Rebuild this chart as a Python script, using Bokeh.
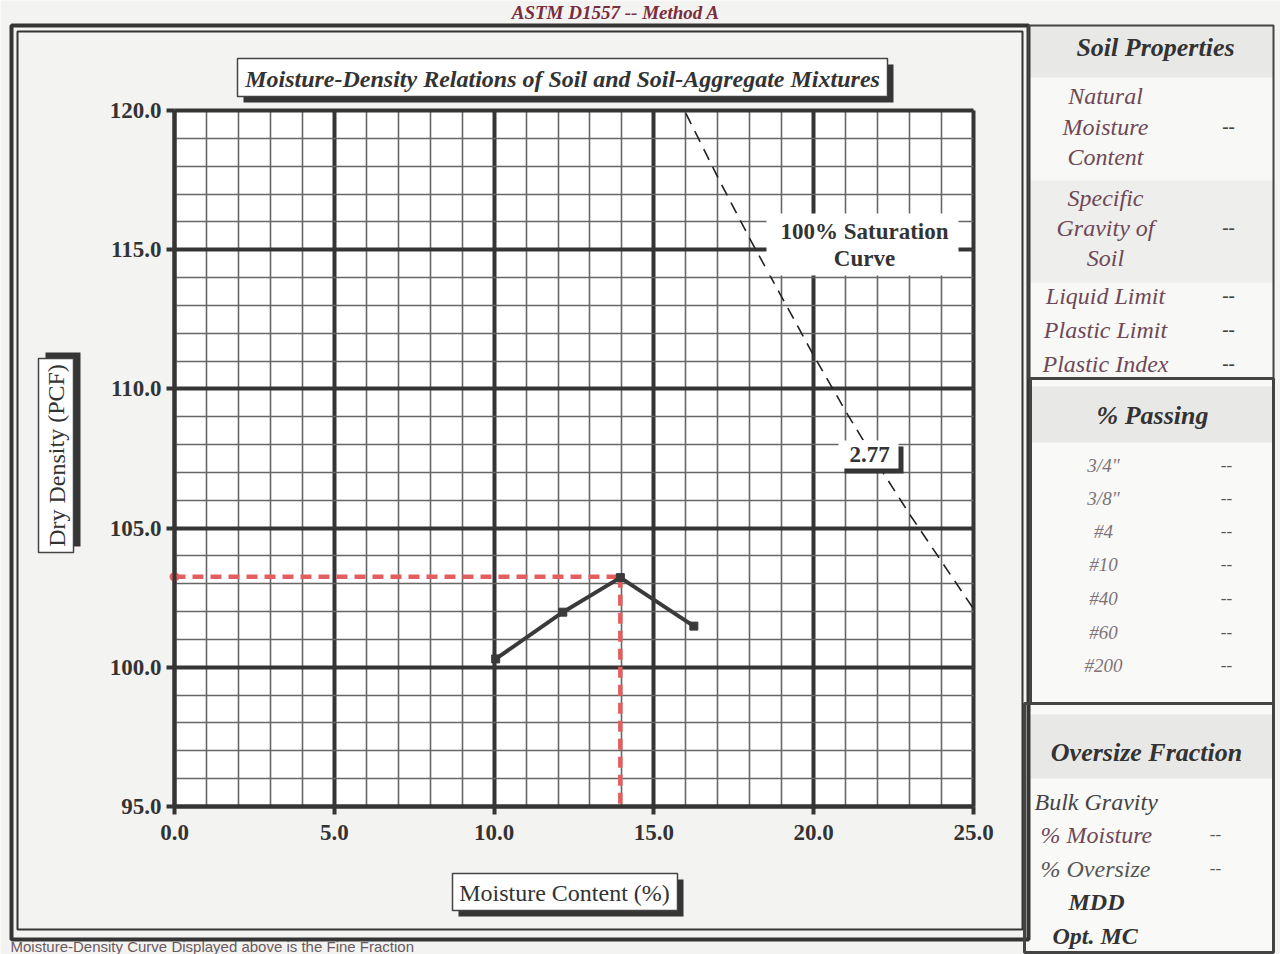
from bokeh.plotting import figure
from bokeh.models import Range1d, FixedTicker, Grid, LinearAxis, PrintfTickFormatter
from bokeh.core.properties import value
from bokeh.embed import file_html
from bokeh.resources import INLINE

# ---------------- data ----------------
moisture = [10.05, 12.15, 13.95, 16.25]
dry_density = [100.30, 101.98, 103.22, 101.48]
opt_moisture = [13.95]
max_density = [103.25]
zav_moisture = [16.0, 17.0, 18.0, 19.0, 20.0, 21.0, 22.0, 23.0, 24.0, 25.0]
zav_density = [119.9, 117.6, 115.4, 113.3, 111.2, 109.2, 107.3, 105.5, 103.8, 102.1]
x_major = [0, 5, 10, 15, 20, 25]
x_minor = list(range(0, 26))
y_major = [95, 100, 105, 110, 115, 120]
y_minor = list(range(95, 121))
specific_gravity = "2.77"

soil_prop_names = [["Natural", "Moisture", "Content"], ["Specific", "Gravity of", "Soil"],
                   ["Liquid Limit"], ["Plastic Limit"], ["Plastic Index"]]
soil_prop_values = ["--", "--", "--", "--", "--"]
sieves = ['3/4"', '3/8"', "#4", "#10", "#40", "#60", "#200"]
sieve_values = ["--", "--", "--", "--", "--", "--", "--"]
oversize_names = ["Bulk Gravity", "% Moisture", "% Oversize", "MDD", "Opt. MC"]
oversize_values = ["", "--", "--", "", ""]

# ---------------- page geometry ----------------
W, H = 1280, 954
FL, FR, FT, FB = 174, 973, 110, 806     # chart frame in page pixels
X0, X1, Y0, Y1 = 0.0, 25.0, 95.0, 120.0


def mc(X):
    return X0 + (X - FL) * (X1 - X0) / (FR - FL)


def dd(Y):
    return Y1 - (Y - FT) * (Y1 - Y0) / (FB - FT)


SERIF = "Liberation Serif"
DARK = "#353535"
PAPER = "#f3f3f1"

p = figure(width=W, height=H, x_range=Range1d(0, W), y_range=Range1d(H, 0),
           x_axis_location=None, y_axis_location=None, min_border=0,
           output_backend="svg", toolbar_location=None)
p.grid.visible = False
p.outline_line_color = None
p.background_fill_color = PAPER
p.border_fill_color = PAPER
p.extra_x_ranges = {"mc": Range1d(mc(0), mc(W))}
p.extra_y_ranges = {"dd": Range1d(dd(H), dd(0))}
CH = dict(x_range_name="mc", y_range_name="dd")

# chart background
p.quad(left=[X0], right=[X1], bottom=[Y0], top=[Y1], fill_color="white", line_color=None,
       level="image", **CH)

# grids limited to the chart box
grid_ok = True
try:
    for dim, major, minor, b, cb in ((0, x_major, x_minor, (X0, X1), (Y0, Y1)),
                                     (1, y_major, y_minor, (Y0, Y1), (X0, X1))):
        g = Grid(dimension=dim, ticker=FixedTicker(ticks=major, minor_ticks=minor),
                 bounds=b, cross_bounds=cb, grid_line_color=DARK, grid_line_width=4,
                 minor_grid_line_color="#666666", minor_grid_line_width=1.6, **CH)
        p.add_layout(g)
except Exception:
    grid_ok = False
if not grid_ok:
    p.segment(x0=x_minor, x1=x_minor, y0=[Y0] * len(x_minor), y1=[Y1] * len(x_minor),
              line_color="#666666", line_width=1.6, level="underlay", **CH)
    p.segment(x0=[X0] * len(y_minor), x1=[X1] * len(y_minor), y0=y_minor, y1=y_minor,
              line_color="#666666", line_width=1.6, level="underlay", **CH)
    p.segment(x0=x_major, x1=x_major, y0=[Y0] * len(x_major), y1=[Y1] * len(x_major),
              line_color=DARK, line_width=4, level="underlay", **CH)
    p.segment(x0=[X0] * len(y_major), x1=[X1] * len(y_major), y0=y_major, y1=y_major,
              line_color=DARK, line_width=4, level="underlay", **CH)

# axes drawn at the chart's edges
xax = LinearAxis(fixed_location=Y0, bounds=(X0, X1), ticker=FixedTicker(ticks=x_major), **CH)
yax = LinearAxis(fixed_location=X0, bounds=(Y0, Y1), ticker=FixedTicker(ticks=y_major), **CH)
for ax in (xax, yax):
    ax.formatter = PrintfTickFormatter(format="%.1f")
    ax.axis_line_color = DARK
    ax.axis_line_width = 4
    ax.major_tick_line_color = DARK
    ax.major_tick_line_width = 4
    ax.major_tick_out = 8
    ax.major_tick_in = 0
    ax.minor_tick_line_color = None
    ax.major_label_text_font = SERIF
    ax.major_label_text_font_style = "bold"
    ax.major_label_text_font_size = "23px"
    ax.major_label_text_color = "#333333"
xax.major_label_standoff = 10
yax.major_label_standoff = 5
p.add_layout(xax, "below")
p.add_layout(yax, "left")

# ---------------- chart marks ----------------
p.line(zav_moisture, zav_density, line_color="#222222", line_width=1.6, line_dash="12 8", **CH)

red = "#e35f5f"
p.line([X0, opt_moisture[0]], [max_density[0], max_density[0]], line_color=red, line_width=4.5,
       line_dash="11 7", **CH)
p.line([opt_moisture[0], opt_moisture[0]], [max_density[0], Y0], line_color=red, line_width=4.5,
       line_dash="11 7", **CH)
p.scatter([X0], [max_density[0]], size=9, color=red, **CH)

p.line(moisture, dry_density, line_color="#3a3a3a", line_width=4, **CH)
p.scatter(moisture, dry_density, marker="square", size=8, color="#3a3a3a", **CH)


# ---------------- decorations (page pixel coordinates) ----------------
def box(x1, y1, x2, y2, fill="white", line=None, lw=1.5, level="glyph"):
    p.quad(left=[x1], right=[x2], top=[y1], bottom=[y2], fill_color=fill,
           line_color=line, line_width=lw, level=level)


def txt(X, Y, s, size=23, style="normal", color="#333333", align="center", angle=0.0, font=SERIF):
    p.text(x=[X], y=[Y], text=[s], text_font=value(font), text_font_size=value(f"{size}px"),
           text_font_style=style, text_color=color, text_align=align, text_baseline="middle",
           angle=angle)


# right panel backgrounds
box(1030, 25, 1273, 377, fill="#f8f8f6", line=None, level="image")
box(1030, 25, 1273, 77, fill="#e8e8e6", line=None, level="image")
box(1030, 180, 1273, 282, fill="#eeeeec", line=None, level="image")
box(1030, 379, 1273, 702, fill="#f9f9f7", line=None, level="image")
box(1030, 386, 1273, 442, fill="#e8e8e6", line=None, level="image")
box(1030, 704, 1273, 952, fill="#f9f9f7", line=None, level="image")
box(1030, 714, 1273, 778, fill="#e8e8e6", line=None, level="image")

# outer frame of the chart (double border)
box(11, 25, 1028, 939, fill=None, line=DARK, lw=4)
box(17, 31, 1022, 929, fill=None, line=DARK, lw=2)

# right panel borders
box(1028, 25, 1273, 378, fill=None, line="#444444", lw=2)
box(1030, 378, 1273, 703, fill=None, line="#444444", lw=3)
box(1024, 703, 1273, 952, fill=None, line="#444444", lw=3)

# title box
box(243, 64, 893, 102, fill=DARK)
box(237, 58, 887, 96, fill="white", line="#444444", lw=1.5)
txt(562, 78, "Moisture-Density Relations of Soil and Soil-Aggregate Mixtures", size=24, style="bold italic")

# y-axis title box
box(45, 352, 80, 546, fill=DARK)
box(38, 358, 73, 552, fill="white", line="#444444", lw=1.5)
txt(56, 455, "Dry Density (PCF)", size=24, angle=1.5708)

# x-axis title box
box(458, 879, 683, 916, fill=DARK)
box(452, 873, 677, 910, fill="white", line="#444444", lw=1.5)
txt(564, 892, "Moisture Content (%)", size=24)

# saturation label
box(766, 213, 958, 275, fill="white")
txt(864, 231, "100% Saturation", size=23, style="bold")
txt(864, 258, "Curve", size=23, style="bold")

# specific gravity tag
box(844, 446, 903, 473, fill=DARK)
box(838, 440, 898, 468, fill="white")
txt(869, 454, specific_gravity, size=23, style="bold")

# page texts at the top and bottom edges
txt(620, 12, "ASTM D1557  --  Method A", size=19, style="bold italic", color="#7a2d3d")
txt(10, 946, "Moisture-Density Curve Displayed above is the Fine Fraction", size=15,
    color="#6a5a5e", align="left", font="Liberation Sans")

# right panel texts
PROP = "#6e4856"
txt(1155, 47, "Soil Properties", size=26, style="bold italic", color="#333333")
prop_rows = [[95, 126, 156], [197, 227, 257], [295], [329], [363]]
for names, rows, val in zip(soil_prop_names, prop_rows, soil_prop_values):
    for nm, yy in zip(names, rows):
        txt(1105, yy, nm, size=24, style="italic", color=PROP)
    txt(1228, rows[len(rows) // 2], val, size=19, style="bold", color="#444444")

txt(1152, 415, "% Passing", size=26, style="bold italic", color="#333333")
sieve_rows = [465, 498, 531, 564, 598, 632, 665]
for s, v, yy in zip(sieves, sieve_values, sieve_rows):
    txt(1103, yy, s, size=19, style="italic", color="#7e7276")
    txt(1226, yy, v, size=17, color="#555555")

txt(1146, 752, "Oversize Fraction", size=26, style="bold italic", color="#333333")
ov_rows = [801, 834, 868, 901, 935]
ov_x = [1034, 1040, 1040, 1068, 1052]
ov_style = ["italic", "italic", "italic", "bold italic", "bold italic"]
ov_color = ["#444444", PROP, "#555555", "#333333", "#333333"]
for nm, v, yy, xx, st, c in zip(oversize_names, oversize_values, ov_rows, ov_x, ov_style, ov_color):
    txt(xx, yy, nm, size=24, style=st, color=c, align="left")
    if v:
        txt(1215, yy, v, size=17, color="#555555")

open("out.html", "w").write(file_html(p, INLINE))
